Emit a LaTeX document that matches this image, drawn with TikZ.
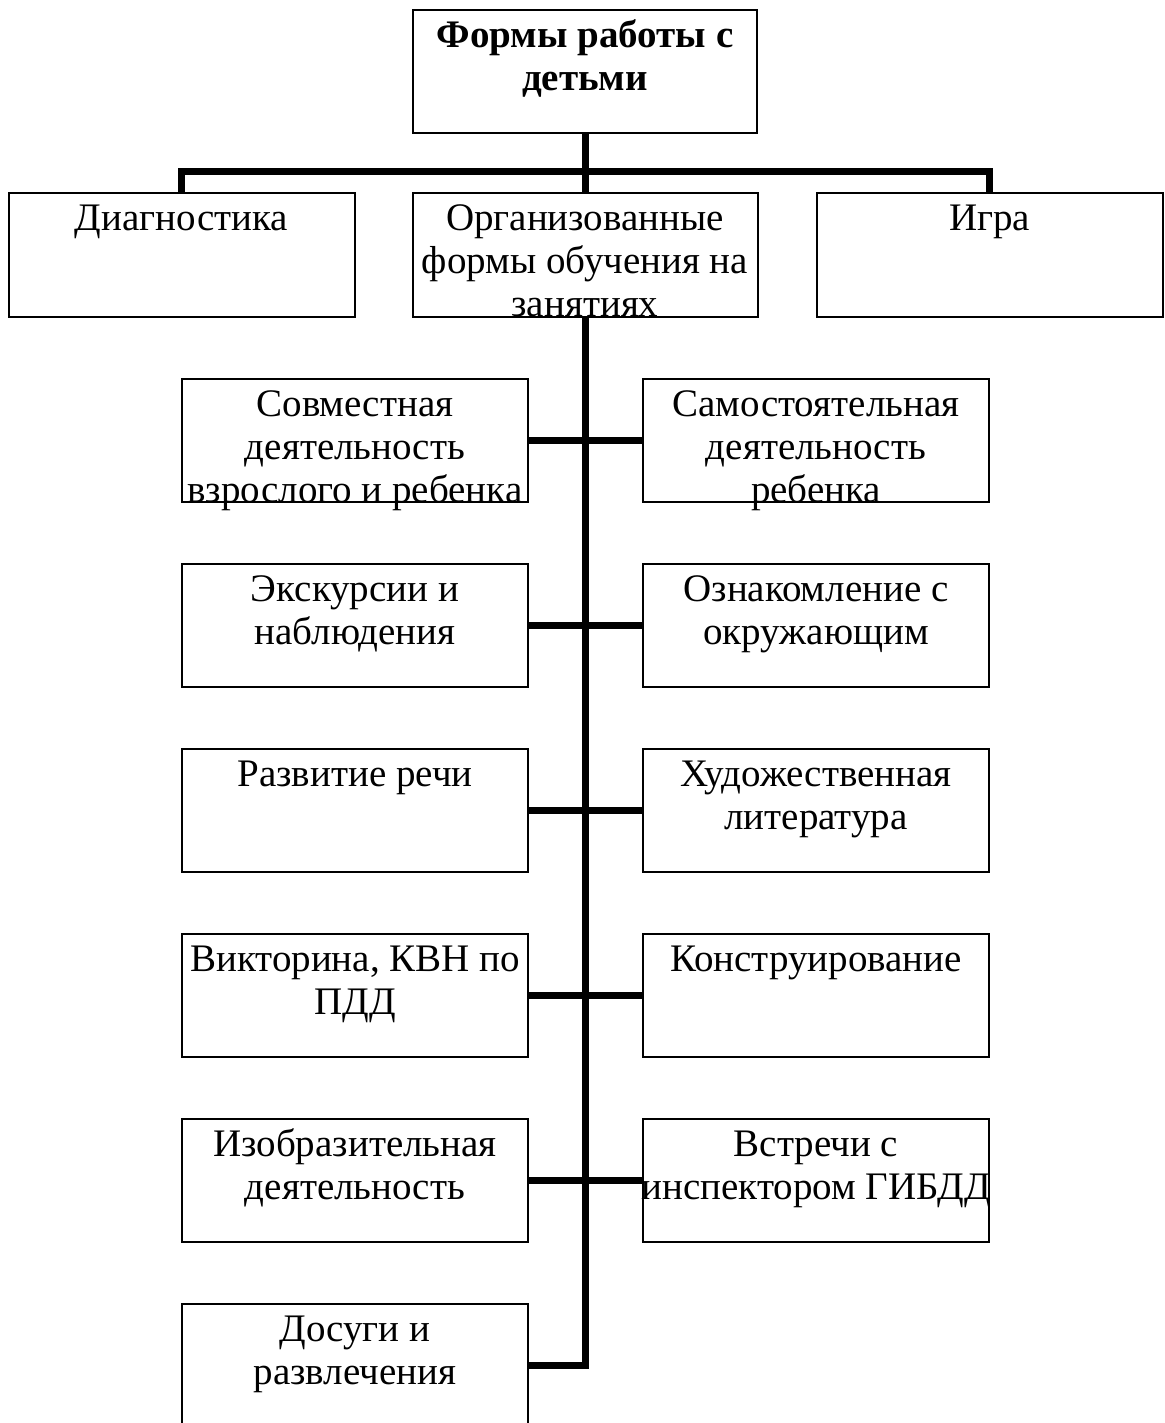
\documentclass[tikz,border=0pt]{standalone}
\usepackage{fontspec}
\setmainfont{Liberation Serif}
\newcommand{\fstrut}{\rule{0pt}{18.5pt}}
\begin{document}
\begin{tikzpicture}[x=0.5pt,y=-0.5pt,
  box/.style={draw=black, line width=1pt, minimum width=173pt, minimum height=61.5pt, inner sep=0pt, outer sep=0pt},
  txt/.style={anchor=north, inner sep=0pt, align=center, font=\fontsize{19.5}{21.4}\selectfont},
  conn/.style={draw=black, line width=3.5pt}]
\fill[white] (0,0) rectangle (1165,1423);
\useasboundingbox (0,0) rectangle (1165,1423);
\clip (0,0) rectangle (1165,1423);
% top
\node[box, minimum width=172pt] (top) at (585,71.5) {};
\node[txt] (topt) at (top.north) {\fstrut\textbf{Формы работы с}\\\textbf{детьми}};
% second tier
\node[box] (diag) at (181.5,255) {};
\node[txt] (diagt) at (diag.north) {\fstrut Диагностика};
\node[box, minimum width=172.5pt] (mid) at (585,255) {};
\node[txt] (midt) at (mid.north) {\fstrut Организованные\\формы обучения на\\занятиях};
\node[box] (igra) at (989.5,255) {};
\node[txt] (igrat) at (igra.north) {\fstrut Игра};
\coordinate (bar) at (585,171.5);
% rows
\node[box] (l1) at (355,440.5) {};
\node[txt] (l1t) at (l1.north) {\fstrut Совместная\\деятельность\\взрослого и ребенка};
\node[box] (r1) at (816,440.5) {};
\node[txt] (r1t) at (r1.north) {\fstrut Самостоятельная\\деятельность\\ребенка};
\node[box] (l2) at (355,625.5) {};
\node[txt] (l2t) at (l2.north) {\fstrut Экскурсии и\\наблюдения};
\node[box] (r2) at (816,625.5) {};
\node[txt] (r2t) at (r2.north) {\fstrut Ознакомление с\\окружающим};
\node[box] (l3) at (355,810.5) {};
\node[txt] (l3t) at (l3.north) {\fstrut Развитие речи};
\node[box] (r3) at (816,810.5) {};
\node[txt] (r3t) at (r3.north) {\fstrut Художественная\\литература};
\node[box] (l4) at (355,995.5) {};
\node[txt] (l4t) at (l4.north) {\fstrut Викторина, КВН по\\ПДД};
\node[box] (r4) at (816,995.5) {};
\node[txt] (r4t) at (r4.north) {\fstrut Конструирование};
\node[box] (l5) at (355,1180.5) {};
\node[txt] (l5t) at (l5.north) {\fstrut Изобразительная\\деятельность};
\node[box] (r5) at (816,1180.5) {};
\node[txt] (r5t) at (r5.north) {\fstrut Встречи с\\инспектором ГИБДД};
\node[box] (l6) at (355,1365.5) {};
\node[txt] (l6t) at (l6.north) {\fstrut Досуги и\\развлечения};
% connectors
\draw[conn] (top.south) -- (mid.north);
\draw[conn] (diag.north) |- (bar) -| (igra.north);
\draw[conn] (mid.south) |- (l6.east);
\draw[conn] (l1.east) -- (r1.west);
\draw[conn] (l2.east) -- (r2.west);
\draw[conn] (l3.east) -- (r3.west);
\draw[conn] (l4.east) -- (r4.west);
\draw[conn] (l5.east) -- (r5.west);
\end{tikzpicture}
\end{document}
